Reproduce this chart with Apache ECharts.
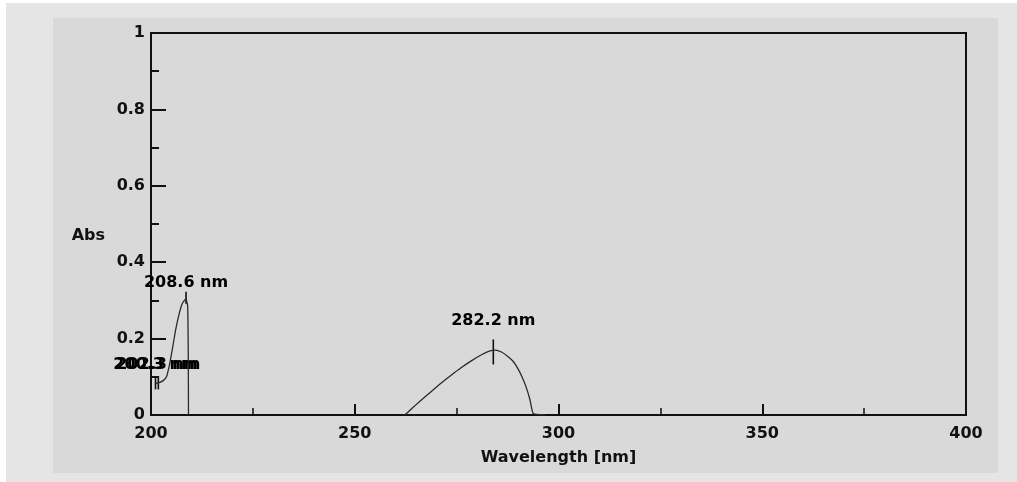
<!DOCTYPE html>
<html>
<head>
<meta charset="utf-8">
<script src="https://cdn.jsdelivr.net/npm/echarts@6/dist/echarts.min.js"></script>
<style>
  html, body { margin: 0; padding: 0; }
  body { width: 1017px; height: 482px; background: #e5e5e5; position: relative; overflow: hidden; }
  #edgeL { position: absolute; left: 0; top: 0; width: 6px; height: 482px; background: #ffffff; }
  #edgeT { position: absolute; left: 0; top: 0; width: 1017px; height: 3px; background: #ffffff; }
  #panel { position: absolute; left: 53px; top: 18px; width: 945px; height: 455px; background: #d9d9d9; }
  #chart { position: absolute; left: 0; top: 0; width: 1017px; height: 482px; }
</style>
</head>
<body>
<div id="edgeL"></div>
<div id="edgeT"></div>
<div id="panel"></div>
<div id="chart"></div>
<script>
// ---- data ----
const wavelength = [201.2, 202.0, 203.0, 203.8, 204.5, 205.2, 206.0, 206.8, 207.6, 208.2, 208.6, 209.0, 209.15, 209.2,
                    235.0,
                    262.3, 264.0, 266.0, 268.5, 271.0, 273.5, 276.0, 278.5, 281.0, 283.0, 284.5, 286.0, 287.5,
                    288.9, 290.0, 291.0, 292.0, 293.0, 293.8, 296.7];
const absorbance = [0.083, 0.085, 0.090, 0.100, 0.130, 0.170, 0.220, 0.260, 0.290, 0.300, 0.303, 0.285, 0.150, 0.0,
                    null,
                    0.0, 0.017, 0.036, 0.059, 0.082, 0.103, 0.123, 0.141, 0.157, 0.167, 0.170, 0.165, 0.154,
                    0.140, 0.122, 0.101, 0.075, 0.040, 0.004, 0.0];

const peakWavelength = [201.1, 201.8, 208.6, 284.0];
const peakAbsorbance = [0.084, 0.084, 0.307, 0.165];
const peakLabels = ['200.3 nm', '202.3 nm', '208.6 nm', '282.2 nm'];

const xTicks = { min: 200, max: 400, interval: 50 };
const yTicks = { min: 0, max: 1, interval: 0.2 };
const xTitle = 'Wavelength [nm]';
const yTitle = 'Abs';

// ---- styling ----
const FONT = 'DejaVu Sans';
const INK = '#111111';
const markerLen = [13, 13, 12, 25];
const labelGap = [4, 4, 1, 11];

const spectrum = wavelength.map((w, i) => [w, absorbance[i] === null ? '-' : absorbance[i]]);
const peaks = peakWavelength.map((w, i) => ({
  value: [w, peakAbsorbance[i]],
  symbolSize: [1.6, markerLen[i]],
  label: { formatter: peakLabels[i], distance: labelGap[i] }
}));

const textStyle = { fontFamily: FONT, fontSize: 16, fontWeight: 'bold', color: INK };

const chart = echarts.init(document.getElementById('chart'), null, { renderer: 'canvas' });
chart.setOption({
  animation: false,
  backgroundColor: 'transparent',
  grid: {
    left: 151, right: 51, top: 33, bottom: 67,
    show: true, borderColor: INK, borderWidth: 2, backgroundColor: 'transparent'
  },
  xAxis: {
    type: 'value', min: xTicks.min, max: xTicks.max, interval: xTicks.interval,
    name: xTitle, nameLocation: 'middle', nameGap: 35,
    nameTextStyle: Object.assign({}, textStyle),
    axisLine: { show: true, lineStyle: { color: INK, width: 2 } },
    axisTick: { show: true, inside: true, length: 11, lineStyle: { color: INK, width: 2 } },
    minorTick: { show: true, splitNumber: 2, length: 7, lineStyle: { color: INK, width: 1.5 } },
    splitLine: { show: false },
    axisLabel: Object.assign({ margin: 11 }, textStyle)
  },
  yAxis: {
    type: 'value', min: yTicks.min, max: yTicks.max, interval: yTicks.interval,
    name: yTitle, nameLocation: 'middle', nameRotate: 0, nameGap: 46,
    nameTextStyle: Object.assign({ verticalAlign: 'top', padding: [4, 0, 0, 0] }, textStyle),
    axisLine: { show: true, lineStyle: { color: INK, width: 2 } },
    axisTick: { show: true, inside: true, length: 15, lineStyle: { color: INK, width: 2 } },
    minorTick: { show: true, splitNumber: 2, length: 8, lineStyle: { color: INK, width: 2 } },
    splitLine: { show: false },
    axisLabel: Object.assign({ margin: 6 }, textStyle)
  },
  series: [
    {
      name: 'spectrum', type: 'line', data: spectrum, clip: true,
      showSymbol: false, symbol: 'none', smooth: 0.15, connectNulls: false,
      lineStyle: { color: '#2a2a2a', width: 1.3 }
    },
    {
      name: 'peaks', type: 'scatter', data: peaks, symbol: 'rect',
      itemStyle: { color: '#111111', opacity: 1 },
      label: Object.assign({ show: true, position: 'top', opacity: 1, textBorderWidth: 0 }, textStyle, { color: '#000000' })
    }
  ]
});
</script>
</body>
</html>
